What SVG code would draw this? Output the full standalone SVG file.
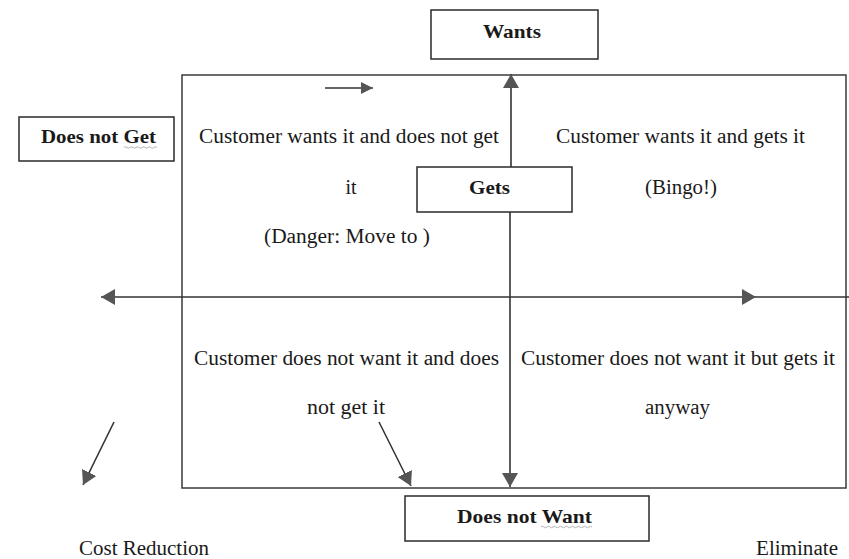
<svg xmlns="http://www.w3.org/2000/svg" width="849" height="559" viewBox="0 0 849 559">
<style>
.box{fill:#fff;stroke:#2a2a2a;stroke-width:1.5}
.frame{fill:none;stroke:#3a3a3a;stroke-width:1.5}
.ln{fill:none;stroke:#333;stroke-width:1.6}
.t{font-family:"Liberation Serif","Times New Roman",serif;font-size:20px;fill:#1a1a1a}
.b{font-family:"Liberation Serif","Times New Roman",serif;font-size:19px;font-weight:bold;fill:#1a1a1a}
.sq{fill:none;stroke:#a0a0a0;stroke-width:0.8}
</style>
<defs>
<marker id="ah" markerUnits="userSpaceOnUse" markerWidth="16" markerHeight="18" refX="14" refY="9" orient="auto-start-reverse" viewBox="0 0 16 18">
<path d="M0,1 L14,9 L0,17 z" fill="#555"/>
</marker>
<marker id="ahs" markerUnits="userSpaceOnUse" markerWidth="13" markerHeight="12" refX="12" refY="6" orient="auto" viewBox="0 0 13 12">
<path d="M0,0 L12,6 L0,12 z" fill="#555"/>
</marker>
</defs>
<rect class="frame" x="182" y="75" width="664" height="413"/>
<g id="connectors">
<line class="ln" x1="511" y1="167" x2="511" y2="74" marker-end="url(#ah)"/>
<line class="ln" x1="510" y1="212" x2="510" y2="487" marker-end="url(#ah)"/>
<line class="ln" x1="101" y1="297" x2="756" y2="297" marker-start="url(#ah)" marker-end="url(#ah)"/>
<line class="ln" x1="756" y1="297" x2="849" y2="297"/>
<line class="ln" x1="325" y1="88" x2="373" y2="88" marker-end="url(#ahs)"/>
<line class="ln" x1="114" y1="422" x2="83" y2="485" marker-end="url(#ah)"/>
<line class="ln" x1="379" y1="422" x2="411" y2="486" marker-end="url(#ah)"/>
</g>
<g id="wants">
<rect class="box" x="431" y="10" width="167" height="49"/>
<text class="b" x="483" y="38" textLength="58" lengthAdjust="spacingAndGlyphs">Wants</text>
</g>
<g id="does-not-get">
<rect class="box" x="19" y="117" width="155" height="44"/>
<text class="b" x="41" y="143" textLength="115" lengthAdjust="spacingAndGlyphs">Does not Get</text>
<path class="sq" d="M124,147.5 q1.5,-1.5 3,0 t3,0 t3,0 t3,0 t3,0 t3,0 t3,0 t3,0 t3,0 t3,0 t3,0"/>
</g>
<g id="gets">
<rect class="box" x="417" y="167" width="155" height="45"/>
<text class="b" x="469" y="194" textLength="41" lengthAdjust="spacingAndGlyphs">Gets</text>
</g>
<g id="does-not-want">
<rect class="box" x="405" y="496" width="244" height="45"/>
<text class="b" x="457" y="523" textLength="135" lengthAdjust="spacingAndGlyphs">Does not Want</text>
<path class="sq" d="M541,527 q1.5,-1.5 3,0 t3,0 t3,0 t3,0 t3,0 t3,0 t3,0 t3,0 t3,0 t3,0 t3,0 t3,0 t3,0 t3,0 t3,0 t3,0 t3,0"/>
</g>
<g id="q-want-not-get">
<text class="t" x="199" y="143" textLength="300" lengthAdjust="spacingAndGlyphs">Customer wants it and does not get</text>
<text class="t" x="351" y="194" text-anchor="middle">it</text>
<text class="t" x="264" y="243" textLength="166" lengthAdjust="spacingAndGlyphs">(Danger: Move to )</text>
</g>
<g id="q-want-get">
<text class="t" x="556" y="143" textLength="249" lengthAdjust="spacingAndGlyphs">Customer wants it and gets it</text>
<text class="t" x="645" y="194" textLength="72" lengthAdjust="spacingAndGlyphs">(Bingo!)</text>
</g>
<g id="q-notwant-notget">
<text class="t" x="194" y="365" textLength="305" lengthAdjust="spacingAndGlyphs">Customer does not want it and does</text>
<text class="t" x="307" y="414" textLength="78" lengthAdjust="spacingAndGlyphs">not get it</text>
</g>
<g id="q-notwant-get">
<text class="t" x="521" y="365" textLength="314" lengthAdjust="spacingAndGlyphs">Customer does not want it but gets it</text>
<text class="t" x="645" y="414" textLength="65" lengthAdjust="spacingAndGlyphs">anyway</text>
</g>
<g id="cost-reduction">
<text class="t" x="79" y="555" textLength="130" lengthAdjust="spacingAndGlyphs">Cost Reduction</text>
</g>
<g id="eliminate">
<text class="t" x="756" y="555" textLength="82" lengthAdjust="spacingAndGlyphs">Eliminate</text>
</g>
</svg>
